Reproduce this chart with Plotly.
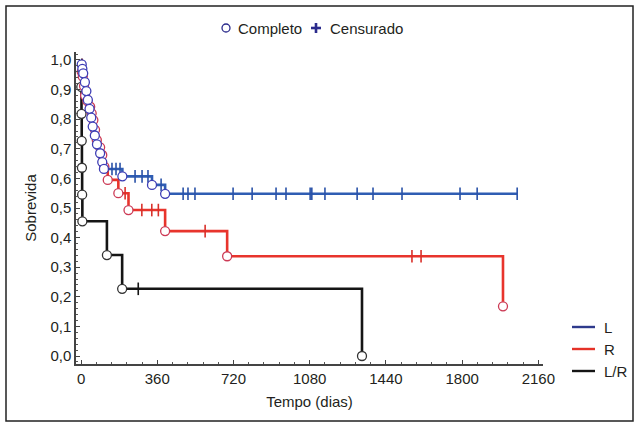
import plotly.graph_objects as go

# ---------------- data ----------------
# L group (blue): event times (days) and survival after each event
L_event_days = [3, 6, 10, 18, 25, 32, 40, 48, 55, 65, 75, 90, 100, 108, 195, 335, 397]
L_event_surv = [0.985, 0.970, 0.955, 0.925, 0.895, 0.865, 0.835, 0.805, 0.775,
                0.745, 0.715, 0.685, 0.655, 0.632, 0.607, 0.578, 0.548]
L_censor_days = [146, 165, 184, 255, 288, 316, 378, 482, 505, 538, 718, 808, 921,
                 968, 1082, 1090, 1152, 1304, 1379, 1516, 1790, 1871, 2060]

# R group (red)
R_event_days = [3, 8, 14, 19, 30, 43, 50, 58, 66, 74, 90, 100, 110, 126, 176, 224, 397, 690, 1993]
R_event_surv = [0.960, 0.944, 0.912, 0.880, 0.861, 0.842, 0.820, 0.797, 0.764, 0.730,
                0.705, 0.679, 0.640, 0.595, 0.550, 0.493, 0.422, 0.337, 0.168]
R_censor_days = [208, 287, 334, 365, 586, 1563, 1606]

# L/R group (black)
LR_event_days = [1, 2, 3, 4, 5, 6, 122, 194, 1327]
LR_event_surv = [0.909, 0.818, 0.727, 0.636, 0.545, 0.455, 0.341, 0.227, 0.0]
LR_censor_days = [270]

group_names = ["L", "R", "L/R"]
x_ticks = [0, 360, 720, 1080, 1440, 1800, 2160]
y_ticks = [0.0, 0.1, 0.2, 0.3, 0.4, 0.5, 0.6, 0.7, 0.8, 0.9, 1.0]

# ---------------- styling ----------------
line_colors = {"L": "#2f5db3", "R": "#e8342c", "L/R": "#151515"}
circle_colors = {"L": "#3d3db5", "R": "#cc3a55", "L/R": "#333333"}
censor_colors = {"L": "#2a52a8", "R": "#d9302a", "L/R": "#151515"}
legend_colors = {"L": "#2e3a8c", "R": "#e53228", "L/R": "#151515"}
FONT = "Liberation Sans, Arial, sans-serif"
TXT = "#231f20"
FS = 15

WIDTH, HEIGHT = 640, 427
ML, MR, MT, MB = 76, 97, 52, 63
PW = WIDTH - ML - MR
PH = HEIGHT - MT - MB


def px_x(px):
    return (px - ML) / PW


def px_y(py):
    return (HEIGHT - MB - py) / PH


def step_level(days, surv, t):
    s = 1.0
    for d, v in zip(days, surv):
        if d <= t:
            s = v
    return s


groups = {
    "L": (L_event_days, L_event_surv, L_censor_days),
    "R": (R_event_days, R_event_surv, R_censor_days),
    "L/R": (LR_event_days, LR_event_surv, LR_censor_days),
}

fig = go.Figure()

# step lines
for name in group_names:
    ed, es, cd = groups[name]
    xs = [0] + list(ed)
    ys = [1.0] + list(es)
    if cd and max(cd) > max(ed):
        xs.append(max(cd))
        ys.append(step_level(ed, es, max(cd)))
    fig.add_trace(go.Scatter(
        x=xs, y=ys, mode="lines", line=dict(shape="hv", color=line_colors[name], width=2.6),
        showlegend=False, hoverinfo="skip", name=name))

# censored marks
for name in group_names:
    ed, es, cd = groups[name]
    fig.add_trace(go.Scatter(
        x=cd, y=[step_level(ed, es, t) for t in cd], mode="markers",
        marker=dict(symbol="line-ns-open", size=9, color=censor_colors[name],
                    line=dict(color=censor_colors[name], width=1.6)),
        showlegend=False, name=name + " censurado"))

# complete events (circles)
for name in ["L/R", "R", "L"]:
    ed, es, cd = groups[name]
    fig.add_trace(go.Scatter(
        x=ed, y=es, mode="markers",
        marker=dict(symbol="circle", size=9, color="white",
                    line=dict(color=circle_colors[name], width=1.3)),
        showlegend=False, name=name + " completo"))

shapes = []
annotations = []

# outer border
shapes.append(dict(type="rect", xref="paper", yref="paper",
                   x0=px_x(6), x1=px_x(633), y0=px_y(421), y1=px_y(6),
                   line=dict(color="#222222", width=1.5), layer="below"))

# top legend: Completo / Censurado
shapes.append(dict(type="circle", xref="paper", yref="paper",
                   x0=px_x(222), x1=px_x(230), y0=px_y(32), y1=px_y(24),
                   line=dict(color="#2b2b8c", width=1.3), fillcolor="white"))
annotations.append(dict(x=px_x(236), y=px_y(28.5), xref="paper", yref="paper",
                        text="Completo", showarrow=False, xanchor="left", yanchor="middle",
                        font=dict(family=FONT, size=FS, color=TXT)))
shapes.append(dict(type="line", xref="paper", yref="paper",
                   x0=px_x(311), x1=px_x(321), y0=px_y(28), y1=px_y(28),
                   line=dict(color="#2b2b8c", width=2.6)))
shapes.append(dict(type="line", xref="paper", yref="paper",
                   x0=px_x(316), x1=px_x(316), y0=px_y(23), y1=px_y(33),
                   line=dict(color="#2b2b8c", width=2.6)))
annotations.append(dict(x=px_x(328), y=px_y(28.5), xref="paper", yref="paper",
                        text="Censurado", showarrow=False, xanchor="left", yanchor="middle",
                        font=dict(family=FONT, size=FS, color=TXT)))

# right legend: L, R, L/R
for i, name in enumerate(group_names):
    yy = 327 + i * 22
    shapes.append(dict(type="line", xref="paper", yref="paper",
                       x0=px_x(572), x1=px_x(595), y0=px_y(yy), y1=px_y(yy),
                       line=dict(color=legend_colors[name], width=2.4)))
    annotations.append(dict(x=px_x(602), y=px_y(yy), xref="paper", yref="paper",
                            text=name, showarrow=False, xanchor="left", yanchor="middle",
                            font=dict(family=FONT, size=FS, color=TXT)))

fig.update_layout(
    width=WIDTH, height=HEIGHT,
    margin=dict(l=ML, r=MR, t=MT, b=MB, pad=0),
    paper_bgcolor="white", plot_bgcolor="white",
    separators=",.",
    font=dict(family=FONT, size=FS, color=TXT),
    shapes=shapes, annotations=annotations,
    showlegend=False,
)

fig.update_xaxes(
    range=[-24, 2182], tickvals=x_ticks, ticktext=[str(v) for v in x_ticks],
    showgrid=False, zeroline=False, showline=True, linecolor="#444444", linewidth=1.5,
    ticks="inside", ticklen=4, tickwidth=1, tickcolor="#444444",
    minor=dict(dtick=72, tick0=0, ticks="inside", ticklen=2, tickcolor="#555555", showgrid=False),
    tickfont=dict(family=FONT, size=FS, color=TXT),
    title=dict(text="Tempo (dias)", font=dict(family=FONT, size=FS, color=TXT), standoff=11),
)
fig.update_yaxes(
    range=[-0.027, 1.027], tickvals=y_ticks, tickformat=".1f",
    showgrid=False, zeroline=False, showline=True, linecolor="#444444", linewidth=1.5,
    ticks="inside", ticklen=4, tickwidth=1, tickcolor="#444444",
    minor=dict(dtick=0.02, tick0=0, ticks="inside", ticklen=2, tickcolor="#555555", showgrid=False),
    tickfont=dict(family=FONT, size=FS, color=TXT),
    title=dict(text="Sobrevida", font=dict(family=FONT, size=FS, color=TXT), standoff=10),
)

fig.write_html("out.html", config={"displayModeBar": False},
               post_script="document.body.style.margin='0';document.body.style.overflow='hidden';")
